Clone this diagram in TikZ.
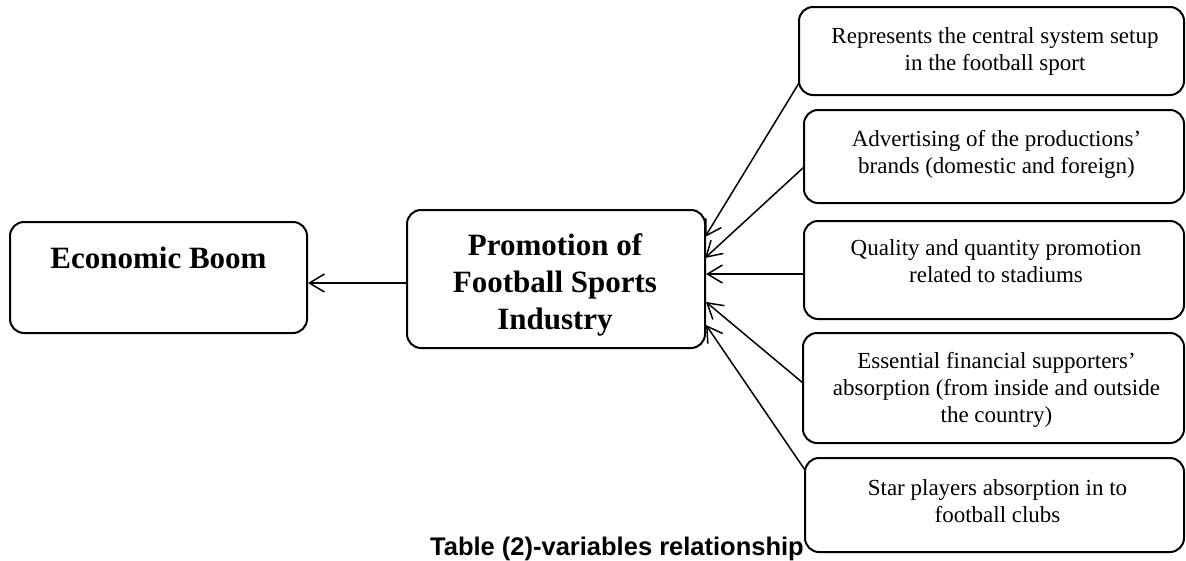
\documentclass[tikz,border=0pt]{standalone}
\usepackage{fontspec}
\setmainfont{Liberation Serif}
\newfontfamily\titlefont{Liberation Sans}
\usetikzlibrary{arrows.meta}
\tikzset{
  box/.style={draw, line width=2pt, rounded corners=14pt, inner sep=0pt, outer sep=0pt},
  small/.style={inner sep=0pt, align=center, font=\fontsize{23}{27}\selectfont},
  big/.style={inner sep=0pt, align=center, font=\bfseries\fontsize{31}{37}\selectfont},
  arr/.style={line width=1.5pt, -{Straight Barb[length=15pt,width=18pt,line width=1.5pt]}}
}
\begin{document}
\begin{tikzpicture}[x=1pt,y=-1pt]
\useasboundingbox (0,0) rectangle (1186,560);
% boxes
\node[box, minimum width=297pt, minimum height=111pt] (eco) at (158.5,277.5) {};
\node[box, minimum width=298pt, minimum height=138pt] (promo) at (556,279) {};
\node[box, minimum width=385pt, minimum height=88pt] (b1) at (991.5,51) {};
\node[box, minimum width=380pt, minimum height=93pt] (b2) at (994,156.5) {};
\node[box, minimum width=380pt, minimum height=98pt] (b3) at (994,270) {};
\node[box, minimum width=381pt, minimum height=110pt] (b4) at (993.5,388) {};
\node[box, minimum width=379pt, minimum height=94pt] (b5) at (994.5,505) {};
% texts
\node[big, anchor=base] (ecot) at (158.5,268) {Economic Boom};
\node[big] (promot) at (555,285) {Promotion of\\Football Sports\\Industry};
\node[small] (t1) at (995,51) {Represents the central system setup\\in the football sport};
\node[small] (t2) at (996.5,154.5) {Advertising of the productions’\\brands (domestic and foreign)};
\node[small] (t3) at (996,261) {Quality and quantity promotion\\related to stadiums};
\node[small] (t4) at (996.5,389.5) {Essential financial supporters’\\absorption (from inside and outside\\the country)};
\node[small] (t5) at (997.5,501) {Star players absorption in to\\football clubs};
\node[anchor=base, inner sep=0pt, font=\titlefont\bfseries\fontsize{25.5}{30}\selectfont] (title) at (617,555) {Table (2)-variables relationship};
% connector end points
\coordinate (s0) at (407,283);
\coordinate (e0) at (308,283);
\coordinate (s1) at (799,83);
\coordinate (e1) at (705,237);
\coordinate (s2) at (804,167);
\coordinate (e2) at (705,258);
\coordinate (s3) at (804,274);
\coordinate (e3) at (706,274);
\coordinate (s4) at (803,383);
\coordinate (e4) at (706,302);
\coordinate (s5) at (805,470);
\coordinate (e5) at (706,325);
% arrows
\draw[arr] (s0) -- (e0);
\draw[arr] (s1) -- (e1);
\draw[arr] (s2) -- (e2);
\draw[arr] (s3) -- (e3);
\draw[arr] (s4) -- (e4);
\draw[arr] (s5) -- (e5);
\end{tikzpicture}
\end{document}
